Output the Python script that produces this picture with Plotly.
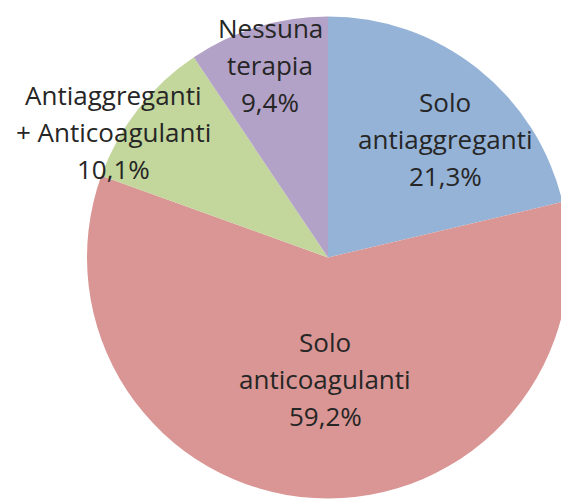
import plotly.graph_objects as go

LABELS = ['Solo antiaggreganti', 'Solo anticoagulanti',
          'Antiaggreganti + Anticoagulanti', 'Nessuna terapia']
VALUES = [21.3, 59.2, 10.1, 9.4]
COLORS = ['#95B3D7', '#D99694', '#C3D69B', '#B3A2C7']

# label lines as shown on the chart (percent line added from VALUES)
LABEL_LINES = [
    ['Solo', 'antiaggreganti'],
    ['Solo', 'anticoagulanti'],
    ['Antiaggreganti', '+ Anticoagulanti'],
    ['Nessuna', 'terapia'],
]

W, H = 580, 500
# label block centres in pixels (x, y of first line)
LABEL_POS = [(445, 102), (325, 342), (113, 95), (270, 28)]
LINE_STEP = 37

fig = go.Figure(go.Pie(
    labels=LABELS, values=VALUES,
    sort=False, direction='clockwise', rotation=0,
    marker=dict(colors=COLORS, line=dict(width=0)),
    textinfo='none', hoverinfo='label+percent',
    domain=dict(x=[87 / W, 569 / W], y=[1.5 / H, 483.5 / H]),
    showlegend=False,
))

annotations = []
for lines, val, (px, py) in zip(LABEL_LINES, VALUES, LABEL_POS):
    all_lines = lines + [f'{val:.1f}%'.replace('.', ',')]
    for i, line in enumerate(all_lines):
        annotations.append(dict(
            text=line, x=px / W, y=1 - (py + i * LINE_STEP) / H,
            xref='paper', yref='paper', showarrow=False,
            xanchor='center', yanchor='middle',
            font=dict(family='Open Sans', size=26, color='#262626'),
        ))

fig.update_layout(
    width=W, height=H,
    margin=dict(l=0, r=0, t=0, b=0),
    paper_bgcolor='white', plot_bgcolor='white',
    annotations=annotations,
)

fig.write_html(
    "out.html",
    config={'displayModeBar': False},
    post_script="document.body.style.margin='0';document.body.style.overflow='hidden';",
)
